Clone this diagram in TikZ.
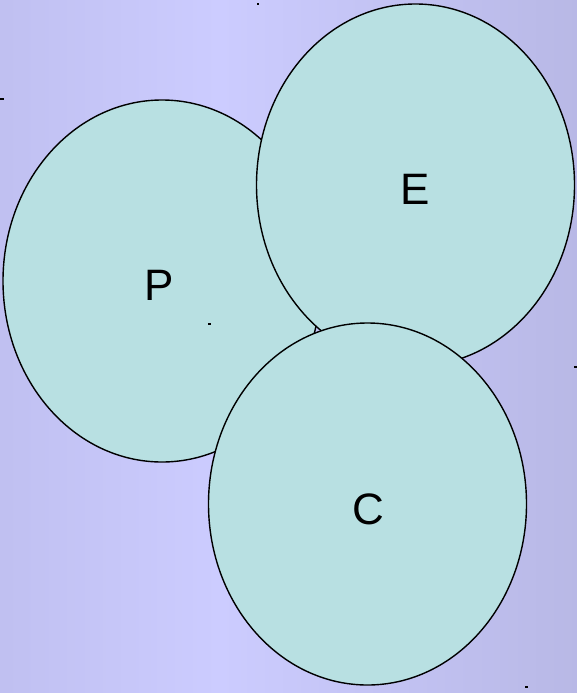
\documentclass[tikz,border=0pt]{standalone}
\usepackage{fontspec}
\setmainfont{Liberation Sans}
\usetikzlibrary{shapes.geometric}
\pgfdeclarehorizontalshading{bgshade}{100pt}{rgb(0pt)=(0.69,0.69,0.87); rgb(44pt)=(0.80,0.80,1); rgb(100pt)=(0.66,0.66,0.82)}
\definecolor{blobfill}{RGB}{184,224,226}
\tikzset{blob/.style={ellipse, draw, line width=1.4pt, fill=blobfill, minimum width=318pt, minimum height=362pt, inner sep=0pt},
  lbl/.style={font=\fontsize{44}{44}\selectfont, inner sep=0pt},
  speck/.style={fill=black}}
\begin{document}
\begin{tikzpicture}[x=1pt, y=-1pt]
    \shade[shading=bgshade] (0,0) rectangle (577,693);
    \useasboundingbox (0,0) rectangle (577,693);
    \node[blob] (p) at (162, 281) {};
    \node[blob] (e) at (415.5, 185) {};
    \node[blob] (c) at (367.5, 504) {};
    \node[lbl] (pl) at (159, 285) {P};
    \node[lbl] (el) at (415, 189) {E};
    \node[lbl] (cl) at (368, 509) {C};
    \fill[speck] (257,3) rectangle (259,5);
    \fill[speck] (0,98) rectangle (4,100);
    \fill[speck] (208,323) rectangle (211,325);
    \fill[speck] (574,366) rectangle (577,368);
    \fill[speck] (525,686) rectangle (528,688);
  \end{tikzpicture}
\end{document}
